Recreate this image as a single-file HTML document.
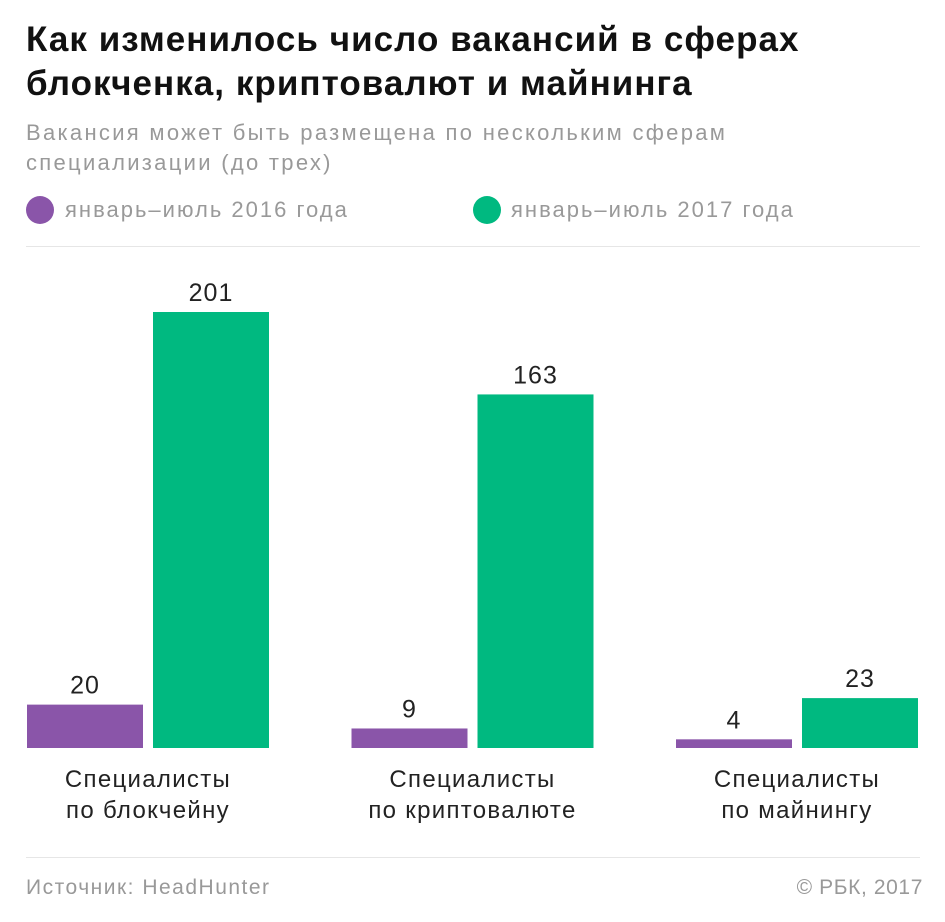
<!DOCTYPE html>
<html><head><meta charset="utf-8"><style>
body{margin:0;width:945px;height:922px;background:#fff;font-family:"Liberation Sans","Noto Sans CJK SC",sans-serif;overflow:hidden;position:relative}
.t{position:absolute;white-space:nowrap}
</style></head><body>
<div class="t" style="left:26px;top:18px;font-size:35px;font-weight:bold;line-height:44px;color:#111;letter-spacing:1.05px">Как изменилось число вакансий в сферах<br>блокченка, криптовалют и майнинга</div>
<div class="t" style="left:26px;top:118px;font-size:22px;line-height:30px;color:#999;letter-spacing:2.3px">Вакансия может быть размещена по нескольким сферам<br>специализации (до трех)</div>
<div>
<div style="position:absolute;left:26px;top:196px;width:28px;height:28px;border-radius:50%;background:#8a55a9"></div>
<div class="t" style="left:65px;top:196px;font-size:22px;line-height:28px;color:#999;letter-spacing:2px">январь–июль 2016 года</div></div>
<div>
<div style="position:absolute;left:473px;top:196px;width:28px;height:28px;border-radius:50%;background:#00b980"></div>
<div class="t" style="left:511px;top:196px;font-size:22px;line-height:28px;color:#999;letter-spacing:2px">январь–июль 2017 года</div></div>
<div style="position:absolute;left:26px;top:246px;width:894px;height:1px;background:#e6e6e6"></div>
<svg id="chart" width="945" height="922" style="position:absolute;left:0;top:0"></svg>
<div style="position:absolute;left:26px;top:857px;width:894px;height:1px;background:#e6e6e6"></div>
<div class="t" style="left:26px;top:876px;font-size:21px;color:#999;letter-spacing:1.5px">Источник: HeadHunter</div>
<div class="t" style="right:22px;top:876px;font-size:21px;color:#999;letter-spacing:0.6px">© РБК, 2017</div>
<script>
const categories=["Специалисты|по блокчейну","Специалисты|по криптовалюте","Специалисты|по майнингу"];
const values2016=[20,9,4];
const values2017=[201,163,23];
const svg=document.getElementById('chart');
const NS='http://www.w3.org/2000/svg';
const base=748, scale=436/201;
const y=v=>base-v*scale;
const groupX=i=>27+i*324.5;
const colors=["#8a55a9","#00b980"];
function mk(tag,attrs){const e=document.createElementNS(NS,tag);for(const k in attrs)e.setAttribute(k,attrs[k]);svg.appendChild(e);return e;}
categories.forEach((c,i)=>{
  [values2016[i],values2017[i]].forEach((v,s)=>{
    const x=groupX(i)+s*126;
    const r=mk('rect',{x:x,y:y(v),width:116,height:base-y(v),fill:colors[s]});
    
    
    const t=mk('text',{x:x+58,y:y(v)-11,'text-anchor':'middle','font-size':25,'letter-spacing':1,fill:'#222'});
    t.textContent=v;
    
    
  });
  const lines=c.split('|');
  lines.forEach((l,k)=>{
    const t=mk('text',{x:groupX(i)+121,y:787+k*31,'text-anchor':'middle','font-size':24,'letter-spacing':1.3,fill:'#222'});
    t.textContent=l;
    
    
  });
});
</script>
</body></html>
